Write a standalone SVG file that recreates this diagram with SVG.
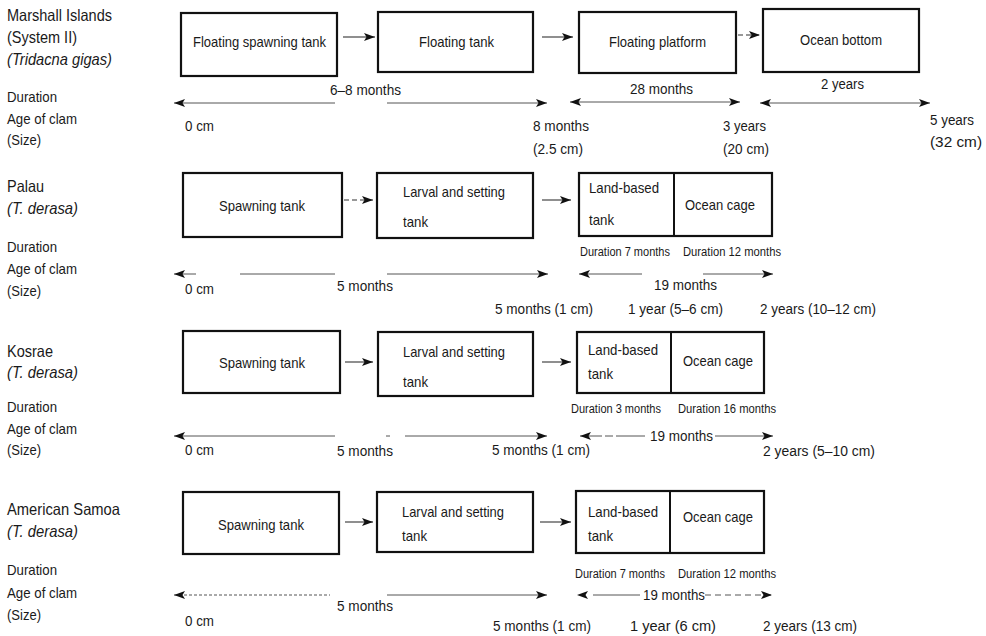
<svg xmlns="http://www.w3.org/2000/svg" width="986" height="636" viewBox="0 0 986 636">
<defs>
<marker id="ah" viewBox="0 0 11 8" refX="11" refY="4" markerWidth="11" markerHeight="8" markerUnits="userSpaceOnUse" orient="auto-start-reverse">
<path d="M0,0 L11,4 L0,8 L2.5,4 z" fill="#111"/>
</marker>
<style>
text{font-family:"Liberation Sans",Arial,sans-serif;fill:#1a1a1a}
.t{font-size:16.5px}
.i{font-style:italic}
.r{font-size:15px}
.b{font-size:15px}
.m{font-size:15.5px}
.s{font-size:12px}
.box{fill:#fff;stroke:#111;stroke-width:2.2}
.div{stroke:#111;stroke-width:2}
.c{fill:none;stroke:#333;stroke-width:1.1}
.tl{fill:none;stroke:#555;stroke-width:1}
.d{stroke-dasharray:5 3}
</style>
</defs>
<rect width="986" height="636" fill="#fff"/>

<!-- Row labels -->
<g id="labels">
<text class="t" x="7" y="21" textLength="105" lengthAdjust="spacingAndGlyphs">Marshall Islands</text>
<text class="t" x="7" y="43" textLength="70" lengthAdjust="spacingAndGlyphs">(System II)</text>
<text class="t i" x="7" y="65" textLength="105" lengthAdjust="spacingAndGlyphs">(Tridacna gigas)</text>
<text class="r" x="7" y="102" textLength="50" lengthAdjust="spacingAndGlyphs">Duration</text>
<text class="r" x="7" y="124" textLength="70" lengthAdjust="spacingAndGlyphs">Age of clam</text>
<text class="r" x="7" y="145" textLength="34" lengthAdjust="spacingAndGlyphs">(Size)</text>

<text class="t" x="7" y="192" textLength="37" lengthAdjust="spacingAndGlyphs">Palau</text>
<text class="t i" x="7" y="214" textLength="71" lengthAdjust="spacingAndGlyphs">(T. derasa)</text>
<text class="r" x="7" y="252" textLength="50" lengthAdjust="spacingAndGlyphs">Duration</text>
<text class="r" x="7" y="274" textLength="70" lengthAdjust="spacingAndGlyphs">Age of clam</text>
<text class="r" x="7" y="296" textLength="34" lengthAdjust="spacingAndGlyphs">(Size)</text>

<text class="t" x="7" y="357" textLength="46" lengthAdjust="spacingAndGlyphs">Kosrae</text>
<text class="t i" x="7" y="378" textLength="71" lengthAdjust="spacingAndGlyphs">(T. derasa)</text>
<text class="r" x="7" y="412" textLength="50" lengthAdjust="spacingAndGlyphs">Duration</text>
<text class="r" x="7" y="434" textLength="70" lengthAdjust="spacingAndGlyphs">Age of clam</text>
<text class="r" x="7" y="455" textLength="34" lengthAdjust="spacingAndGlyphs">(Size)</text>

<text class="t" x="7" y="515" textLength="113" lengthAdjust="spacingAndGlyphs">American Samoa</text>
<text class="t i" x="7" y="537" textLength="71" lengthAdjust="spacingAndGlyphs">(T. derasa)</text>
<text class="r" x="7" y="575" textLength="50" lengthAdjust="spacingAndGlyphs">Duration</text>
<text class="r" x="7" y="598" textLength="70" lengthAdjust="spacingAndGlyphs">Age of clam</text>
<text class="r" x="7" y="620" textLength="34" lengthAdjust="spacingAndGlyphs">(Size)</text>
</g>

<!-- Marshall Islands nodes -->
<g id="m-spawning">
<rect class="box" x="181" y="13" width="156" height="63"/>
<text class="b" x="193" y="47" textLength="133" lengthAdjust="spacingAndGlyphs">Floating spawning tank</text>
</g>
<g id="m-floating-tank">
<rect class="box" x="378" y="12" width="155" height="60"/>
<text class="b" x="419" y="47" textLength="75" lengthAdjust="spacingAndGlyphs">Floating tank</text>
</g>
<g id="m-platform">
<rect class="box" x="579" y="12" width="157" height="61"/>
<text class="b" x="609" y="47" textLength="97" lengthAdjust="spacingAndGlyphs">Floating platform</text>
</g>
<g id="m-ocean-bottom">
<rect class="box" x="763" y="9" width="156" height="63"/>
<text class="b" x="800" y="45" textLength="82" lengthAdjust="spacingAndGlyphs">Ocean bottom</text>
</g>

<!-- Palau nodes -->
<g id="p-spawning">
<rect class="box" x="183" y="173" width="159" height="64"/>
<text class="b" x="219" y="211" textLength="86" lengthAdjust="spacingAndGlyphs">Spawning tank</text>
</g>
<g id="p-larval">
<rect class="box" x="377" y="173" width="156" height="65"/>
<text class="b" x="403" y="197" textLength="102" lengthAdjust="spacingAndGlyphs">Larval and setting</text>
<text class="b" x="403" y="227" textLength="25" lengthAdjust="spacingAndGlyphs">tank</text>
</g>
<g id="p-land-ocean">
<rect class="box" x="579" y="173" width="193" height="63"/>
<line class="div" x1="674" y1="173" x2="674" y2="236"/>
<text class="b" x="589" y="193" textLength="70" lengthAdjust="spacingAndGlyphs">Land-based</text>
<text class="b" x="589" y="225" textLength="25" lengthAdjust="spacingAndGlyphs">tank</text>
<text class="b" x="685" y="210" textLength="70" lengthAdjust="spacingAndGlyphs">Ocean cage</text>
</g>

<!-- Kosrae nodes -->
<g id="k-spawning">
<rect class="box" x="183" y="331" width="157" height="62"/>
<text class="b" x="219" y="368" textLength="86" lengthAdjust="spacingAndGlyphs">Spawning tank</text>
</g>
<g id="k-larval">
<rect class="box" x="378" y="332" width="155" height="64"/>
<text class="b" x="403" y="357" textLength="102" lengthAdjust="spacingAndGlyphs">Larval and setting</text>
<text class="b" x="403" y="387" textLength="25" lengthAdjust="spacingAndGlyphs">tank</text>
</g>
<g id="k-land-ocean">
<rect class="box" x="577" y="332" width="187" height="61"/>
<line class="div" x1="671" y1="332" x2="671" y2="393"/>
<text class="b" x="588" y="355" textLength="70" lengthAdjust="spacingAndGlyphs">Land-based</text>
<text class="b" x="588" y="379" textLength="25" lengthAdjust="spacingAndGlyphs">tank</text>
<text class="b" x="683" y="366" textLength="70" lengthAdjust="spacingAndGlyphs">Ocean cage</text>
</g>

<!-- American Samoa nodes -->
<g id="s-spawning">
<rect class="box" x="183" y="492" width="156" height="62"/>
<text class="b" x="218" y="530" textLength="86" lengthAdjust="spacingAndGlyphs">Spawning tank</text>
</g>
<g id="s-larval">
<rect class="box" x="377" y="492" width="156" height="60"/>
<text class="b" x="402" y="517" textLength="102" lengthAdjust="spacingAndGlyphs">Larval and setting</text>
<text class="b" x="402" y="541" textLength="25" lengthAdjust="spacingAndGlyphs">tank</text>
</g>
<g id="s-land-ocean">
<rect class="box" x="576" y="491" width="188" height="62"/>
<line class="div" x1="670" y1="491" x2="670" y2="553"/>
<text class="b" x="588" y="517" textLength="70" lengthAdjust="spacingAndGlyphs">Land-based</text>
<text class="b" x="588" y="541" textLength="25" lengthAdjust="spacingAndGlyphs">tank</text>
<text class="b" x="683" y="522" textLength="70" lengthAdjust="spacingAndGlyphs">Ocean cage</text>
</g>

<!-- Connectors between stages -->
<g id="connectors">
<path class="c" d="M343,37 H375" marker-end="url(#ah)"/>
<path class="c" d="M542,37 H573" marker-end="url(#ah)"/>
<path class="c d" d="M738,35 H760" marker-end="url(#ah)"/>
<path class="c d" d="M344,200 H373" marker-end="url(#ah)"/>
<path class="c" d="M542,200 H571" marker-end="url(#ah)"/>
<path class="c" d="M345,362 H373" marker-end="url(#ah)"/>
<path class="c" d="M542,362 H571" marker-end="url(#ah)"/>
<path class="c" d="M345,522 H373" marker-end="url(#ah)"/>
<path class="c" d="M540,522 H571" marker-end="url(#ah)"/>
</g>

<!-- Timelines -->
<g id="timelines">
<path class="tl" d="M174,103 H335" marker-start="url(#ah)"/>
<path class="tl" d="M387,103 H547" marker-end="url(#ah)"/>
<path class="tl" d="M570,102 H740" marker-start="url(#ah)" marker-end="url(#ah)"/>
<path class="tl" d="M760,103 H930" marker-start="url(#ah)" marker-end="url(#ah)"/>

<path class="tl" d="M174,274 H196" marker-start="url(#ah)"/>
<path class="tl" d="M240,274 H335"/>
<path class="tl" d="M387,274 H548" marker-end="url(#ah)"/>
<path class="tl" d="M579,274 H642" marker-start="url(#ah)"/>
<path class="tl" d="M703,274 H773" marker-end="url(#ah)"/>

<path class="tl" d="M174,436 H335" marker-start="url(#ah)"/>
<path class="tl" d="M386,436 H390"/>
<path class="tl" d="M405,436 H547" marker-end="url(#ah)"/>
<path class="tl" d="M580,436 H645" stroke-dasharray="22 3 8 3 40" marker-start="url(#ah)"/>
<path class="tl" d="M715,436 H773" marker-end="url(#ah)"/>

<path class="tl" d="M174,595 H330" stroke="#888" stroke-dasharray="3 2" marker-start="url(#ah)"/>
<path class="tl" d="M387,595 H547" marker-end="url(#ah)"/>
<path class="tl" d="M577,595 H640" stroke-dasharray="0 16 47" marker-start="url(#ah)"/>
<path class="tl" d="M705,595 H772" stroke-dasharray="6 4" marker-end="url(#ah)"/>
</g>

<!-- Timeline texts -->
<g id="marshall-times">
<text class="m" x="330" y="95" textLength="71" lengthAdjust="spacingAndGlyphs">6–8 months</text>
<text class="m" x="630" y="94" textLength="63" lengthAdjust="spacingAndGlyphs">28 months</text>
<text class="m" x="821" y="89" textLength="43" lengthAdjust="spacingAndGlyphs">2 years</text>
<text class="m" x="185" y="131" textLength="29" lengthAdjust="spacingAndGlyphs">0 cm</text>
<text class="m" x="533" y="131" textLength="56" lengthAdjust="spacingAndGlyphs">8 months</text>
<text class="m" x="533" y="154" textLength="50" lengthAdjust="spacingAndGlyphs">(2.5 cm)</text>
<text class="m" x="723" y="131" textLength="43" lengthAdjust="spacingAndGlyphs">3 years</text>
<text class="m" x="723" y="154" textLength="46" lengthAdjust="spacingAndGlyphs">(20 cm)</text>
<text class="m" x="930" y="125" textLength="44" lengthAdjust="spacingAndGlyphs">5 years</text>
<text class="m" x="930" y="147" textLength="52" lengthAdjust="spacingAndGlyphs">(32 cm)</text>
</g>
<g id="palau-times">
<text class="s" x="580" y="256" textLength="90" lengthAdjust="spacingAndGlyphs">Duration 7 months</text>
<text class="s" x="683" y="256" textLength="98" lengthAdjust="spacingAndGlyphs">Duration 12 months</text>
<text class="m" x="337" y="291" textLength="56" lengthAdjust="spacingAndGlyphs">5 months</text>
<text class="m" x="654" y="290" textLength="63" lengthAdjust="spacingAndGlyphs">19 months</text>
<text class="m" x="185" y="294" textLength="29" lengthAdjust="spacingAndGlyphs">0 cm</text>
<text class="m" x="495" y="314" textLength="98" lengthAdjust="spacingAndGlyphs">5 months (1 cm)</text>
<text class="m" x="628" y="314" textLength="95" lengthAdjust="spacingAndGlyphs">1 year (5–6 cm)</text>
<text class="m" x="760" y="314" textLength="116" lengthAdjust="spacingAndGlyphs">2 years (10–12 cm)</text>
</g>
<g id="kosrae-times">
<text class="s" x="571" y="413" textLength="90" lengthAdjust="spacingAndGlyphs">Duration 3 months</text>
<text class="s" x="678" y="413" textLength="98" lengthAdjust="spacingAndGlyphs">Duration 16 months</text>
<text class="m" x="650" y="441" textLength="63" lengthAdjust="spacingAndGlyphs">19 months</text>
<text class="m" x="185" y="455" textLength="29" lengthAdjust="spacingAndGlyphs">0 cm</text>
<text class="m" x="337" y="456" textLength="56" lengthAdjust="spacingAndGlyphs">5 months</text>
<text class="m" x="492" y="455" textLength="98" lengthAdjust="spacingAndGlyphs">5 months (1 cm)</text>
<text class="m" x="763" y="456" textLength="112" lengthAdjust="spacingAndGlyphs">2 years (5–10 cm)</text>
</g>
<g id="samoa-times">
<text class="s" x="575" y="578" textLength="90" lengthAdjust="spacingAndGlyphs">Duration 7 months</text>
<text class="s" x="678" y="578" textLength="98" lengthAdjust="spacingAndGlyphs">Duration 12 months</text>
<text class="m" x="643" y="600" textLength="62" lengthAdjust="spacingAndGlyphs">19 months</text>
<text class="m" x="337" y="611" textLength="56" lengthAdjust="spacingAndGlyphs">5 months</text>
<text class="m" x="185" y="626" textLength="29" lengthAdjust="spacingAndGlyphs">0 cm</text>
<text class="m" x="493" y="631" textLength="98" lengthAdjust="spacingAndGlyphs">5 months (1 cm)</text>
<text class="m" x="630" y="631" textLength="86" lengthAdjust="spacingAndGlyphs">1 year (6 cm)</text>
<text class="m" x="763" y="631" textLength="94" lengthAdjust="spacingAndGlyphs">2 years (13 cm)</text>
</g>
</svg>
